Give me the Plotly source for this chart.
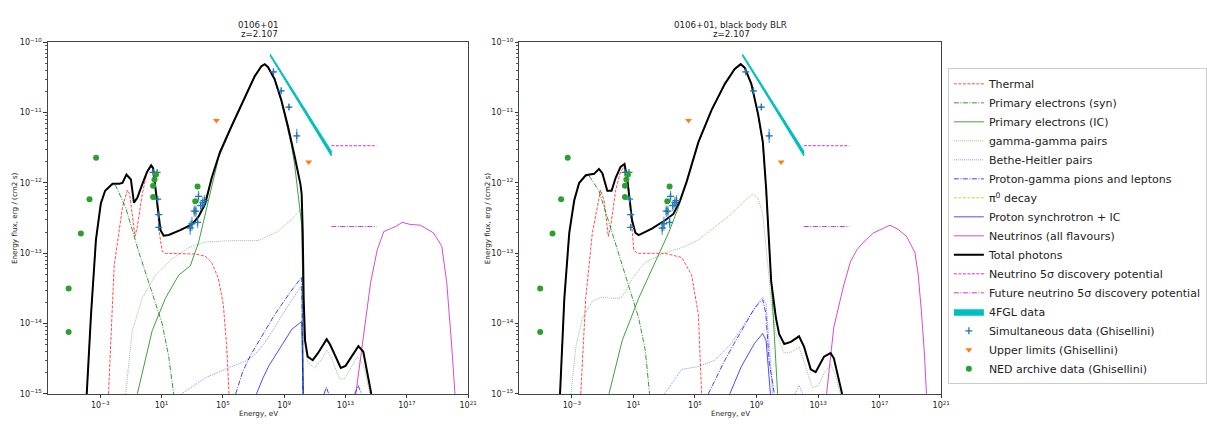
import numpy as np
import plotly.graph_objects as go

# ---------------- data: log10(E / eV) and log10(flux / erg cm^-2 s^-1) ----------------
# Left panel (0106+01)
L_THERMAL_E = [-2.46, -2.09, -1.55, -1.23, -1.08, -0.91, -0.73, -0.58, -0.26, 0.06, 0.39, 0.56, 0.71, 0.86, 1.04, 1.25, 3.19, 3.84, 4.27, 4.71, 5.03, 5.25, 5.40]
L_THERMAL_F = [-15, -13.18, -12.35, -12.10, -12.16, -12.44, -12.76, -12.62, -12.16, -11.84, -11.77, -11.93, -12.35, -12.71, -12.97, -13.0, -13.01, -13.04, -13.13, -13.36, -13.73, -14.33, -15]
L_SYN_E = [-3.88, -3.6, -3.28, -2.96, -2.68, -2.2, -1.99, -1.34, -0.47, 0.39, 1.04, 1.47, 1.79]
L_SYN_F = [-15, -13.87, -12.81, -12.29, -12.11, -12.03, -12.04, -12.35, -12.99, -13.55, -14.0, -14.47, -15]
L_IC_E = [-0.58, 0.39, 1.25, 2.12, 2.87, 3.41, 4.06, 4.71, 5.57, 6.43, 7.08, 7.51, 7.73, 7.94, 8.37, 8.81, 9.24, 9.45, 9.67, 10.0, 10.14, 10.2, 10.25]
L_IC_F = [-15, -14.1, -13.64, -13.31, -13.18, -12.85, -12.25, -11.65, -11.2, -10.79, -10.49, -10.35, -10.32, -10.36, -10.53, -10.84, -11.22, -11.44, -11.72, -12.39, -12.6, -13.3, -15]
L_GG_E = [-1.34, -0.91, -0.26, 0.6, 1.68, 2.76, 3.84, 5.57, 7.3, 8.37, 8.59, 9.24, 9.45, 10.0, 10.1, 10.18, 10.27, 10.53, 10.97, 11.4, 11.79, 12.1, 12.6, 12.91, 13.4, 13.77, 14.2, 14.59]
L_GG_F = [-15, -14.1, -13.64, -13.31, -13.08, -12.92, -12.84, -12.82, -12.82, -12.71, -12.69, -12.56, -12.53, -12.39, -12.37, -12.9, -14.2, -14.55, -14.63, -14.52, -14.38, -14.5, -14.78, -14.79, -14.6, -14.47, -14.61, -15]
L_BH_E = [2.3, 3.85, 5.35, 6.5, 7.1, 7.7, 8.3, 8.9, 9.5, 10.14, 10.2, 10.22]
L_BH_F = [-15, -14.77, -14.63, -14.53, -14.44, -14.28, -14.08, -13.87, -13.66, -13.46, -14.3, -15]
L_PG_E = [5.83, 6.3, 6.8, 7.3, 7.8, 8.3, 8.8, 9.4, 10.14, 10.2, 10.23, np.nan, 11.6, 11.75, 11.9, np.nan, 13.6, 13.82, 14.05]
L_PG_F = [-15, -14.68, -14.45, -14.26, -14.08, -13.9, -13.74, -13.55, -13.34, -14.2, -15, np.nan, -15, -14.9, -15, np.nan, -15, -14.88, -15]
L_PSYN_E = [7.19, 7.6, 8.0, 8.5, 9.0, 9.5, 10.14, 10.2, 10.23]
L_PSYN_F = [-15, -14.78, -14.6, -14.42, -14.24, -14.08, -13.97, -14.5, -15]
L_NEU_E = [13.67, 14.2, 14.64, 15.07, 15.5, 15.93, 16.26, 16.69, 17.23, 17.88, 18.74, 19.28, 19.6, 19.93, 20.14]
L_NEU_F = [-15, -14.1, -13.41, -12.95, -12.69, -12.65, -12.62, -12.56, -12.59, -12.6, -12.71, -12.9, -13.41, -14.33, -15]
L_TOTAL_E = [-3.88, -3.6, -3.28, -2.96, -2.68, -2.2, -1.77, -1.55, -1.29, -1.0, -0.80, -0.58, -0.26, 0.06, 0.32, 0.45, 0.60, 0.78, 0.93, 1.14, 1.47, 2.22, 2.98, 3.41, 3.84, 4.27, 4.81, 5.57, 6.43, 7.08, 7.51, 7.73, 7.94, 8.37, 8.81, 9.24, 9.67, 10.06, 10.14, 10.21, 10.27, 10.36, 10.53, 10.86, 11.2, 11.77, 12.0, 12.69, 13.0, 13.4, 13.84, 14.16, 14.42, 14.68]
L_TOTAL_F = [-15, -13.87, -12.81, -12.29, -12.11, -12.01, -12.01, -12.0, -11.88, -11.95, -12.28, -12.21, -12.02, -11.84, -11.75, -11.79, -12.07, -12.44, -12.67, -12.75, -12.74, -12.67, -12.59, -12.48, -12.30, -11.93, -11.56, -11.19, -10.78, -10.48, -10.34, -10.31, -10.35, -10.52, -10.82, -11.19, -11.61, -12.02, -12.16, -12.71, -13.64, -14.24, -14.47, -14.52, -14.42, -14.22, -14.3, -14.63, -14.6, -14.47, -14.32, -14.4, -14.7, -15.0]

# Right panel (0106+01, black body BLR)
R_THERMAL_E = [-2.42, -2.1, -1.67, -1.34, -1.13, -0.91, -0.63, -0.48, -0.16, 0.16, 0.38, 0.70, 0.91, 1.02, 1.24, 3.06, 4.14, 4.78, 5.22, 5.43]
R_THERMAL_F = [-15, -13.64, -12.71, -12.32, -12.1, -12.25, -12.76, -12.62, -12.11, -11.84, -11.77, -12.07, -12.62, -12.95, -13.0, -13.0, -13.06, -13.31, -13.87, -15]
R_SYN_E = [-3.77, -3.49, -3.17, -2.85, -2.53, -2.1, -1.88, -1.24, -0.38, 0.48, 1.34, 1.77, 2.05]
R_SYN_F = [-15, -13.64, -12.71, -12.25, -12.01, -11.9, -11.9, -12.11, -12.71, -13.31, -13.92, -14.38, -15]
R_IC_E = [-0.59, 0.27, 1.34, 2.42, 3.28, 3.92, 4.57, 5.22, 6.08, 6.94, 7.58, 7.97, 8.23, 8.66, 9.09, 9.41, 9.62, 9.8, 10.0, 10.2, 10.37]
R_IC_F = [-15, -14.24, -13.64, -13.13, -12.71, -12.35, -11.9, -11.43, -10.97, -10.6, -10.39, -10.32, -10.37, -10.6, -11.03, -11.45, -12.1, -12.8, -13.6, -14.35, -15]
R_GG_E = [-3.06, -2.74, -2.31, -1.67, -1.02, -0.38, 0.16, 0.48, 0.91, 1.77, 3.06, 4.14, 5.22, 6.29, 7.37, 8.23, 8.75, 9.1, 9.4, 9.72, 9.95, 10.27, 10.8, 11.3, 11.76, 12.1, 12.62, 13.0, 13.4, 13.81, 14.1, 14.45]
R_GG_F = [-15, -14.33, -13.92, -13.68, -13.62, -13.64, -13.64, -13.55, -13.36, -13.13, -12.99, -12.92, -12.81, -12.62, -12.44, -12.25, -12.16, -12.22, -12.44, -13.13, -13.7, -14.15, -14.42, -14.4, -14.33, -14.55, -14.91, -14.88, -14.7, -14.58, -14.72, -15]
R_BH_E = [3.02, 4.14, 5.22, 6.29, 7.37, 8.44, 9.19, 9.41, 9.62, 9.84, 10.05, np.nan, 11.5, 11.76, 12.0]
R_BH_F = [-15, -14.65, -14.61, -14.52, -14.28, -13.92, -13.68, -13.62, -13.73, -14.33, -15, np.nan, -15, -14.88, -15]
R_PG_E = [5.86, 6.5, 6.94, 7.5, 8.01, 8.5, 8.87, 9.2, 9.4, 9.6, 9.83, 10.16]
R_PG_F = [-15, -14.72, -14.52, -14.3, -14.1, -13.92, -13.78, -13.7, -13.66, -13.85, -14.56, -15]
R_PSYN_E = [7.26, 8.01, 8.87, 9.4, 9.62, 9.9]
R_PSYN_F = [-15, -14.61, -14.28, -14.14, -14.24, -15]
R_NEU_E = [13.55, 14.02, 14.67, 15.1, 15.52, 16.0, 16.6, 17.2, 17.67, 18.2, 18.75, 19.29, 19.5, 19.71, 19.9, 20.04]
R_NEU_F = [-15, -14.05, -13.45, -13.12, -12.95, -12.83, -12.71, -12.65, -12.6, -12.66, -12.76, -12.99, -13.3, -13.82, -14.4, -15]
R_TOTAL_E = [-3.77, -3.49, -3.17, -2.85, -2.53, -2.1, -1.56, -1.24, -1.02, -0.7, -0.42, -0.16, 0.16, 0.42, 0.59, 0.76, 0.91, 1.13, 1.34, 2.2, 3.06, 3.6, 4.03, 4.46, 5.22, 6.08, 6.94, 7.58, 7.97, 8.23, 8.66, 9.09, 9.41, 9.62, 9.77, 9.95, 10.26, 10.47, 10.8, 11.23, 11.76, 12.09, 12.52, 12.84, 13.38, 13.81, 14.02, 14.56]
R_TOTAL_F = [-15, -13.64, -12.71, -12.25, -12.0, -11.89, -11.87, -11.80, -11.86, -12.11, -12.11, -11.93, -11.77, -11.73, -11.93, -12.25, -12.53, -12.71, -12.74, -12.65, -12.53, -12.44, -12.25, -11.98, -11.42, -10.96, -10.59, -10.38, -10.31, -10.36, -10.59, -11.01, -11.42, -12.07, -12.71, -13.4, -13.92, -14.15, -14.29, -14.26, -14.18, -14.33, -14.65, -14.69, -14.47, -14.42, -14.49, -15]

# Shared: neutrino discovery potentials, 4FGL butterfly, observational data
NU5_E = [12.07, 15.03]
NU5_F = [-11.47, -11.47]
FUT_E = [12.07, 15.03]
FUT_F = [-12.62, -12.62]
FGL_E = [8.08, 12.07]
FGL_HI = [-10.165, -11.545]
FGL_LO = [-10.19, -11.615]
SIM_E = [0.45, 0.71, 0.75, 0.82, 0.82, 2.87, 2.98, 3.13, 3.24, 3.35, 3.41, 3.56, 3.69, 3.80, 8.3, 8.8, 9.31, 9.82]
SIM_F = [-11.85, -11.85, -12.23, -12.45, -12.63, -12.64, -12.58, -12.40, -12.40, -12.56, -12.19, -12.32, -12.28, -12.25, -10.42, -10.69, -10.92, -11.33]
SIM_DE = [0.12, 0.12, 0.1, 0.1, 0.1, 0.06, 0.06, 0.06, 0.06, 0.06, 0.06, 0.06, 0.06, 0.06, 0.15, 0.15, 0.15, 0.15]
SIM_DF = [0.02, 0.02, 0.02, 0.02, 0.02, 0.1, 0.1, 0.08, 0.08, 0.08, 0.08, 0.08, 0.08, 0.08, 0.03, 0.03, 0.04, 0.1]
UL_E = [4.58, 10.6]
UL_F = [-11.11, -11.70]
NED_E = [-5.06, -5.06, -4.26, -3.7, -3.27, 0.45, 0.45, 0.54, 0.64, 3.2, 3.35]
NED_F = [-13.5, -14.12, -12.72, -12.23, -11.64, -12.04, -12.2, -11.95, -11.88, -12.26, -12.05]

X_TICKS = [-3, 1, 5, 9, 13, 17, 21]
Y_TICKS = [-15, -14, -13, -12, -11, -10]

# ---------------- styling ----------------
FONT = "DejaVu Sans"
DASHED = "3px,1.5px"
DASHDOT = "5px,1.5px,1px,1.5px"
DOTTED = "1px,1px"
C_RED = "rgba(255,0,0,0.7)"
C_SYN = "rgba(0,128,0,0.8)"
C_IC = "rgba(0,128,0,0.75)"
C_GG = "rgba(0,128,0,0.45)"
C_BH = "rgba(0,0,255,0.45)"
C_PG = "rgba(0,0,255,0.75)"
C_PI0 = "rgba(191,191,0,0.75)"
C_PSYN = "rgba(0,0,255,0.7)"
C_NEU = "rgba(191,0,191,0.7)"
C_NU5 = "rgba(191,0,191,0.8)"
C_FGL = "#00bfbf"


def p10(a):
    return [10.0 ** v if v == v else None for v in a]


fig = go.Figure()

panels = [
    dict(xa="x", ya="y", legend=True,
         th=(L_THERMAL_E, L_THERMAL_F), syn=(L_SYN_E, L_SYN_F), ic=(L_IC_E, L_IC_F),
         gg=(L_GG_E, L_GG_F), bh=(L_BH_E, L_BH_F), pg=(L_PG_E, L_PG_F),
         ps=(L_PSYN_E, L_PSYN_F), nu=(L_NEU_E, L_NEU_F), tot=(L_TOTAL_E, L_TOTAL_F)),
    dict(xa="x2", ya="y2", legend=False,
         th=(R_THERMAL_E, R_THERMAL_F), syn=(R_SYN_E, R_SYN_F), ic=(R_IC_E, R_IC_F),
         gg=(R_GG_E, R_GG_F), bh=(R_BH_E, R_BH_F), pg=(R_PG_E, R_PG_F),
         ps=(R_PSYN_E, R_PSYN_F), nu=(R_NEU_E, R_NEU_F), tot=(R_TOTAL_E, R_TOTAL_F)),
]

for p in panels:
    sl = p["legend"]

    def line(key_or_data, name, color, dash="solid", width=1.0):
        e, f = key_or_data
        fig.add_trace(go.Scatter(x=p10(e), y=p10(f), mode="lines", name=name,
                                 line=dict(color=color, dash=dash, width=width),
                                 xaxis=p["xa"], yaxis=p["ya"], showlegend=sl,
                                 connectgaps=False, hoverinfo="skip"))

    line(p["th"], "Thermal", C_RED, DASHED)
    line(p["syn"], "Primary electrons (syn)", C_SYN, DASHDOT)
    line(p["ic"], "Primary electrons (IC)", C_IC, "solid")
    line(p["gg"], "gamma-gamma pairs", C_GG, DOTTED)
    line(p["bh"], "Bethe-Heitler pairs", C_BH, DOTTED)
    line(p["pg"], "Proton-gamma pions and leptons", C_PG, DASHDOT)
    fig.add_trace(go.Scatter(x=[None], y=[None], mode="lines", name="π<sup>0</sup> decay",
                             line=dict(color=C_PI0, dash=DASHED, width=1),
                             xaxis=p["xa"], yaxis=p["ya"], showlegend=sl))
    line(p["ps"], "Proton synchrotron + IC", C_PSYN, "solid")
    line(p["nu"], "Neutrinos (all flavours)", C_NEU, "solid")
    line(p["tot"], "Total photons", "black", "solid", 2.0)
    line((NU5_E, NU5_F), "Neutrino 5σ discovery potential", C_NU5, DASHED)
    line((FUT_E, FUT_F), "Future neutrino 5σ discovery potential", C_NU5, DASHDOT)

    fx = p10(FGL_E + FGL_E[::-1])
    fy = p10(FGL_HI + FGL_LO[::-1])
    fig.add_trace(go.Scatter(x=fx, y=fy, mode="lines", fill="toself", fillcolor=C_FGL,
                             line=dict(color=C_FGL, width=1), name="4FGL data",
                             xaxis=p["xa"], yaxis=p["ya"], showlegend=sl, hoverinfo="skip"))

    se = np.array(SIM_E)
    sf = np.array(SIM_F)
    de = np.array(SIM_DE)
    df = np.array(SIM_DF)
    fig.add_trace(go.Scatter(
        x=10.0 ** se, y=10.0 ** sf, mode="markers", name="Simultaneous data (Ghisellini)",
        marker=dict(symbol="cross-thin", size=5, color="#1f77b4",
                    line=dict(color="#1f77b4", width=1.3)),
        error_x=dict(type="data", symmetric=False,
                     array=10.0 ** (se + de) - 10.0 ** se,
                     arrayminus=10.0 ** se - 10.0 ** (se - de),
                     color="rgba(31,119,180,0.7)", thickness=1.2, width=0),
        error_y=dict(type="data", symmetric=False,
                     array=10.0 ** (sf + df) - 10.0 ** sf,
                     arrayminus=10.0 ** sf - 10.0 ** (sf - df),
                     color="rgba(31,119,180,0.7)", thickness=1.2, width=0),
        xaxis=p["xa"], yaxis=p["ya"], showlegend=sl))
    fig.add_trace(go.Scatter(x=p10(UL_E), y=p10(UL_F), mode="markers",
                             name="Upper limits (Ghisellini)",
                             marker=dict(symbol="triangle-down", size=6, color="#ff7f0e"),
                             xaxis=p["xa"], yaxis=p["ya"], showlegend=sl))
    fig.add_trace(go.Scatter(x=p10(NED_E), y=p10(NED_F), mode="markers",
                             name="NED archive data (Ghisellini)",
                             marker=dict(symbol="circle", size=6, color="#2ca02c"),
                             xaxis=p["xa"], yaxis=p["ya"], showlegend=sl))

W, H = 1207, 424
XD1 = [48.3 / W, 471.7 / W]
XD2 = [523.3 / W, 948.3 / W]
YD = [1 - 398.3 / H, 1 - 37.3 / H]


def sup(v):
    s = str(v).replace("-", "−")
    return "10<sup>" + s + "</sup>"


axis_common = dict(type="log", showgrid=False, zeroline=False, showline=True,
                   linecolor="#444", linewidth=1, mirror=True, ticks="outside",
                   ticklen=3.5, tickwidth=0.8, tickcolor="#333",
                   tickfont=dict(family=FONT, size=8, color="#222"))
xax = dict(axis_common, range=[-6.41, 21], tickmode="array",
           tickvals=[10.0 ** v for v in X_TICKS], ticktext=[sup(v) for v in X_TICKS])
yax = dict(axis_common, range=[-15, -10], tickmode="array",
           tickvals=[10.0 ** v for v in Y_TICKS], ticktext=[sup(v) for v in Y_TICKS],
           minor=dict(ticks="outside", ticklen=2, tickwidth=0.6, tickcolor="#555",
                      dtick="D1", showgrid=False))

fig.update_layout(
    width=W, height=H, margin=dict(l=0, r=0, t=0, b=0),
    paper_bgcolor="white", plot_bgcolor="white",
    font=dict(family=FONT, color="#222"),
    xaxis=dict(xax, domain=XD1, anchor="y"),
    yaxis=dict(yax, domain=YD, anchor="x"),
    xaxis2=dict(xax, domain=XD2, anchor="y2"),
    yaxis2=dict(yax, domain=YD, anchor="x2"),
    legend=dict(x=955 / W, xanchor="left", y=1 - 64 / H, yanchor="top",
                bgcolor="white", bordercolor="#cccccc", borderwidth=1,
                font=dict(family=FONT, size=11, color="#222"), tracegroupgap=0,
                itemwidth=30),
    showlegend=True,
)

ann = []
for xd, t1 in ((XD1, "0106+01"), (XD2, "0106+01, black body BLR")):
    xc = (xd[0] + xd[1]) / 2
    ann.append(dict(text=t1, x=xc, y=1 - 19.5 / H, xref="paper", yref="paper",
                    xanchor="center", yanchor="middle", showarrow=False,
                    font=dict(family=FONT, size=8.7, color="#222")))
    ann.append(dict(text="z=2.107", x=xc + 1.5 / W, y=1 - 29 / H, xref="paper", yref="paper",
                    xanchor="center", yanchor="middle", showarrow=False,
                    font=dict(family=FONT, size=8.7, color="#222")))
    ann.append(dict(text="Energy, eV", x=xc, y=1 - 418 / H, xref="paper", yref="paper",
                    xanchor="center", yanchor="middle", showarrow=False,
                    font=dict(family=FONT, size=7.2, color="#222")))
for xp in (14, 490.7):
    ann.append(dict(text="Energy flux, erg / (cm2 s)", x=xp / W, y=1 - 217.8 / H,
                    xref="paper", yref="paper", textangle=-90, xanchor="center",
                    yanchor="middle", showarrow=False,
                    font=dict(family=FONT, size=7.2, color="#222")))
fig.update_layout(annotations=ann)

fig.write_html("out.html")
